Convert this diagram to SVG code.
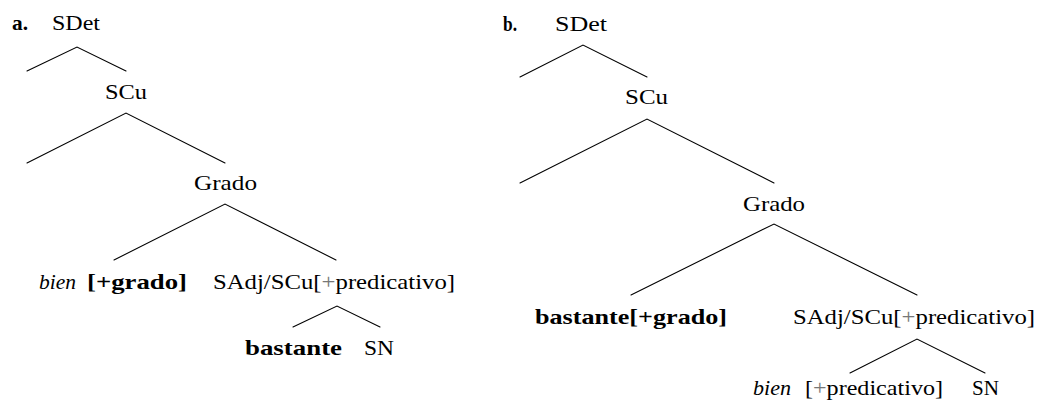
<svg xmlns="http://www.w3.org/2000/svg" width="1040" height="403" viewBox="0 0 1040 403">
  <style>
    text { font-family: "Liberation Serif", "Times New Roman", serif; font-size: 21px; fill: #000; }
    .b { font-weight: bold; }
    .i { font-style: italic; }
    .plus { fill: #777; }
    .edge { stroke: #000; stroke-width: 1.1; fill: none; stroke-linecap: round; }
  </style>
  <rect width="1040" height="403" fill="#fff"/>

  <!-- tree (a) -->
  <g id="label-a"><text class="b" x="12" y="30" textLength="16" lengthAdjust="spacingAndGlyphs">a.</text></g>
  <g id="a-sdet"><text x="52" y="30" textLength="48" lengthAdjust="spacingAndGlyphs">SDet</text></g>
  <g id="a-scu"><text x="105" y="99" textLength="42" lengthAdjust="spacingAndGlyphs">SCu</text></g>
  <g id="a-grado"><text x="194" y="190" textLength="63" lengthAdjust="spacingAndGlyphs">Grado</text></g>
  <g id="a-bien">
    <text class="i" x="39" y="289" textLength="37" lengthAdjust="spacingAndGlyphs">bien</text>
    <text class="b" x="87" y="289" textLength="100" lengthAdjust="spacingAndGlyphs">[+grado]</text>
  </g>
  <g id="a-sadj"><text x="213" y="289" textLength="242" lengthAdjust="spacingAndGlyphs">SAdj/SCu[<tspan class="plus">+</tspan>predicativo]</text></g>
  <g id="a-bastante"><text class="b" x="245" y="355" textLength="97" lengthAdjust="spacingAndGlyphs">bastante</text></g>
  <g id="a-sn"><text x="364" y="355" textLength="30" lengthAdjust="spacingAndGlyphs">SN</text></g>

  <!-- tree (b) -->
  <g id="label-b"><text class="b" x="503" y="31" textLength="14" lengthAdjust="spacingAndGlyphs">b.</text></g>
  <g id="b-sdet"><text x="555" y="31" textLength="52" lengthAdjust="spacingAndGlyphs">SDet</text></g>
  <g id="b-scu"><text x="625" y="104" textLength="43" lengthAdjust="spacingAndGlyphs">SCu</text></g>
  <g id="b-grado"><text x="743" y="211" textLength="62" lengthAdjust="spacingAndGlyphs">Grado</text></g>
  <g id="b-bastante"><text class="b" x="535" y="324" textLength="192" lengthAdjust="spacingAndGlyphs">bastante[+grado]</text></g>
  <g id="b-sadj"><text x="793" y="324" textLength="242" lengthAdjust="spacingAndGlyphs">SAdj/SCu[<tspan class="plus">+</tspan>predicativo]</text></g>
  <g id="b-bien">
    <text class="i" x="753" y="395" textLength="38" lengthAdjust="spacingAndGlyphs">bien</text>
    <text x="805" y="395" textLength="138" lengthAdjust="spacingAndGlyphs">[<tspan class="plus">+</tspan>predicativo]</text>
  </g>
  <g id="b-sn"><text x="972" y="395" textLength="27" lengthAdjust="spacingAndGlyphs">SN</text></g>

  <!-- branches -->
  <g id="connectors">
    <path class="edge" d="M27,71 L77,47 L126,71"/>
    <path class="edge" d="M27,163 L126,113 L225,163"/>
    <path class="edge" d="M114,260 L225,204 L336,260"/>
    <path class="edge" d="M293,327 L337,306 L380,327"/>

    <path class="edge" d="M520,77 L583,45 L647,77"/>
    <path class="edge" d="M520,183 L647,119 L774,183"/>
    <path class="edge" d="M631,295 L774,224 L917,295"/>
    <path class="edge" d="M850,373 L917,339 L985,373"/>
  </g>
</svg>
